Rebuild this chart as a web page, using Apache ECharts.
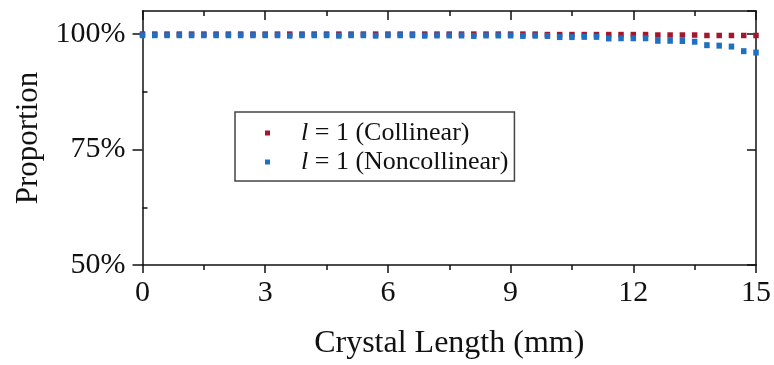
<!DOCTYPE html>
<html>
<head>
<meta charset="utf-8">
<script src="https://cdn.jsdelivr.net/npm/echarts@6/dist/echarts.min.js"></script>
<style>
  html, body { margin: 0; padding: 0; background: #fff; }
  #chart { width: 774px; height: 365px; }
</style>
</head>
<body>
<div id="chart"></div>
<script>
// crystal length samples (mm), 0.3 mm step
var lengths = [0, 0.3, 0.6, 0.9, 1.2, 1.5, 1.8, 2.1, 2.4, 2.7, 3, 3.3, 3.6, 3.9, 4.2, 4.5, 4.8,
  5.1, 5.4, 5.7, 6, 6.3, 6.6, 6.9, 7.2, 7.5, 7.8, 8.1, 8.4, 8.7, 9, 9.3, 9.6, 9.9,
  10.2, 10.5, 10.8, 11.1, 11.4, 11.7, 12, 12.3, 12.6, 12.9, 13.2, 13.5, 13.8, 14.1, 14.4, 14.7, 15]

var collinear = [100, 100, 100, 100, 100, 100, 100, 100, 100, 100, 100, 100, 100, 100, 100, 100, 100,
  100, 100, 100, 100, 100, 100, 100, 100, 100, 100, 100, 100, 100, 100, 100, 100, 99.9,
  99.9, 99.9, 99.9, 99.9, 99.9, 99.9, 99.9, 99.9, 99.8, 99.8, 99.8, 99.8, 99.7, 99.7, 99.7, 99.7, 99.7]

var noncollinear = [99.75, 99.75, 99.75, 99.75, 99.75, 99.75, 99.75, 99.75, 99.75, 99.75, 99.75, 99.75, 99.65, 99.75, 99.75, 99.75, 99.65,
  99.75, 99.75, 99.65, 99.75, 99.75, 99.75, 99.65, 99.7, 99.7, 99.7, 99.6, 99.7, 99.7, 99.7, 99.6, 99.65, 99.6,
  99.35, 99.35, 99.4, 99.4, 99.05, 99.1, 99.1, 99.1, 98.55, 98.55, 98.5, 98.35, 97.6, 97.5, 97.3, 96.3, 96.0]

var xTicks = { min: 0, max: 15, interval: 3 }
var yTicks = { min: 50, max: 105, interval: 25 }

var seriesNames = ['Collinear', 'Noncollinear']
var colors = ['#A3172E', '#1F6FC2']

var serif = 'Liberation Serif'

function pairs(ys) {
  return lengths.map(function(x, i) { return [x, ys[i]] })
}

var chart = echarts.init(document.getElementById('chart'))

var lineStyle = { color: '#111', width: 1.5 }

chart.setOption({
  animation: false,
  color: colors,
  grid: {
    left: 142.5,
    right: 18,
    top: 11,
    bottom: 99
  },
  legend: {
    left: 235,
    top: 112,
    orient: 'vertical',
    data: seriesNames,
    icon: 'rect',
    itemWidth: 5,
    itemHeight: 5,
    itemGap: 3,
    padding: [8, 6, 6, 30],
    borderColor: '#444',
    borderWidth: 1.5,
    formatter: function(name) {
      return '{i|l} = 1 (' + name + ')'
    },
    textStyle: {
      fontFamily: serif,
      fontSize: 26,
      color: '#111',
      padding: [0, 0, 0, 26],
      rich: {
        i: { fontFamily: serif, fontStyle: 'italic', fontSize: 26, color: '#111' }
      }
    }
  },
  xAxis: [
    {
      type: 'value',
      position: 'bottom',
      min: xTicks.min,
      max: xTicks.max,
      interval: xTicks.interval,
      name: 'Crystal Length (mm)',
      nameLocation: 'middle',
      nameGap: 63,
      nameTextStyle: { fontFamily: serif, fontSize: 32, color: '#111' },
      axisLine: { show: true, lineStyle: lineStyle },
      axisTick: { show: true, length: 8, lineStyle: lineStyle },
      minorTick: { show: true, splitNumber: 2, length: 5, lineStyle: lineStyle },
      axisLabel: { fontFamily: serif, fontSize: 30, color: '#111', margin: 13 },
      splitLine: { show: false }
    },
    {
      type: 'value',
      position: 'top',
      min: xTicks.min,
      max: xTicks.max,
      interval: xTicks.interval,
      axisLine: { show: true, lineStyle: lineStyle },
      axisTick: { show: true, inside: true, length: 9, lineStyle: lineStyle },
      minorTick: { show: true, splitNumber: 2, length: 5, lineStyle: lineStyle },
      axisLabel: { show: false },
      splitLine: { show: false }
    }
  ],
  yAxis: [
    {
      type: 'value',
      position: 'left',
      min: yTicks.min,
      max: yTicks.max,
      interval: yTicks.interval,
      name: 'Proportion',
      nameLocation: 'middle',
      nameGap: 98,
      nameTextStyle: { fontFamily: serif, fontSize: 31, color: '#111' },
      axisLine: { show: true, lineStyle: lineStyle },
      axisTick: { show: true, length: 10, lineStyle: lineStyle },
      axisLabel: {
        fontFamily: serif,
        fontSize: 30,
        color: '#111',
        margin: 17,
        showMaxLabel: false,
        formatter: function(v) { return v % 25 === 0 ? v + '%' : '' }
      },
      splitLine: { show: false }
    },
    {
      type: 'value',
      position: 'left',
      min: yTicks.min,
      max: yTicks.max,
      interval: yTicks.interval,
      axisLine: { show: false },
      axisTick: { show: false, inside: true },
      minorTick: { show: true, splitNumber: 2, length: 5, lineStyle: lineStyle },
      axisLabel: { show: false },
      splitLine: { show: false }
    },
    {
      type: 'value',
      position: 'right',
      min: yTicks.min,
      max: yTicks.max,
      interval: yTicks.interval,
      axisLine: { show: true, lineStyle: lineStyle },
      axisTick: { show: true, inside: true, length: 9, lineStyle: lineStyle },
      axisLabel: { show: false },
      splitLine: { show: false }
    }
  ],
  series: [
    {
      name: seriesNames[0],
      type: 'scatter',
      symbol: 'rect',
      symbolSize: [5.5, 5.5],
      data: pairs(collinear),
      itemStyle: { color: colors[0], opacity: 1 }
    },
    {
      name: seriesNames[1],
      type: 'scatter',
      symbol: 'rect',
      symbolSize: [5.5, 6],
      data: pairs(noncollinear),
      itemStyle: { color: colors[1], opacity: 1 }
    }
  ]
})
</script>
</body>
</html>
